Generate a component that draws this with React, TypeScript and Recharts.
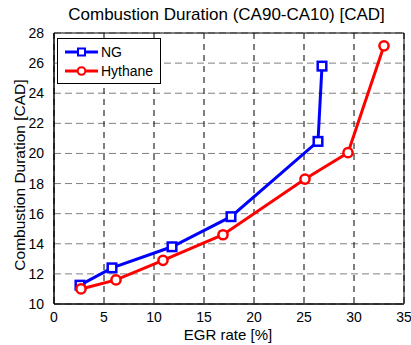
import React from "react";
import { LineChart, Line, XAxis, YAxis, CartesianGrid, ReferenceArea } from "recharts";

const ngX = [2.6, 5.8, 11.8, 17.7, 26.4, 26.8];
const ngY = [11.25, 12.4, 13.8, 15.8, 20.8, 25.8];
const hyX = [2.7, 6.2, 10.9, 16.9, 25.1, 29.4, 33.0];
const hyY = [11.0, 11.6, 12.9, 14.6, 18.3, 20.05, 27.15];
const xTicks = [0, 5, 10, 15, 20, 25, 30, 35];
const yTicks = [10, 12, 14, 16, 18, 20, 22, 24, 26, 28];

const ngData = ngX.map((x, i) => ({ x, y: ngY[i] }));
const hyData = hyX.map((x, i) => ({ x, y: hyY[i] }));

const FONT = "'Liberation Sans', Arial, sans-serif";
const BLUE = "#0000ff";
const RED = "#ff0000";

const SquareDot = (props: any) => {
  const { cx, cy } = props;
  if (cx == null || cy == null) return null;
  return <rect x={cx - 4.3} y={cy - 4.3} width={8.6} height={8.6} fill="#fff" stroke={BLUE} strokeWidth={2.5} />;
};
const CircleDot = (props: any) => {
  const { cx, cy } = props;
  if (cx == null || cy == null) return null;
  return <circle cx={cx} cy={cy} r={4.6} fill="#fff" stroke={RED} strokeWidth={2.5} />;
};

const YLabel = () => (
  <text
    x={19}
    y={175}
    transform="rotate(-90 19 175)"
    textAnchor="middle"
    dominantBaseline="central"
    fill="#000"
    fontSize={15.5}
    fontFamily={FONT}
  >
    Combustion Duration [CAD]
  </text>
);

const XLabel = () => (
  <text x={228} y={340} textAnchor="middle" fill="#000" fontSize={15} fontFamily={FONT}>
    EGR rate [%]
  </text>
);

export default function App() {
  return (
    <div style={{ position: "absolute", left: 0, top: 0, width: 411, height: 345, background: "#fff", fontFamily: FONT }}>
      <div style={{ position: "absolute", left: 0, width: 453, top: 5, textAlign: "center", fontSize: 17, color: "#000", lineHeight: "20px", whiteSpace: "nowrap" }}>
        Combustion Duration (CA90-CA10) [CAD]
      </div>
      <LineChart width={411} height={345} margin={{ top: 33, right: 7, bottom: 0, left: 0 }}>
        <CartesianGrid vertical={false} stroke="#808080" strokeDasharray="7 4" />
        <CartesianGrid horizontal={false} stroke="#000" strokeDasharray="6 5" />
        <XAxis
          type="number"
          dataKey="x"
          domain={[0, 35]}
          ticks={xTicks}
          allowDataOverflow
          height={41}
          tickLine={false}
          axisLine={{ stroke: "#000" }}
          tick={{ fill: "#000", fontSize: 14, fontFamily: FONT }}
          tickMargin={2}
          label={<XLabel />}
        />
        <YAxis
          type="number"
          dataKey="y"
          domain={[10, 28]}
          ticks={yTicks}
          allowDataOverflow
          width={54}
          tickLine={false}
          axisLine={{ stroke: "#000" }}
          tick={{ fill: "#000", fontSize: 14, fontFamily: FONT }}
          tickMargin={4}
          label={<YLabel />}
        />
        <ReferenceArea x1={0} x2={35} y1={10} y2={28} fill="none" stroke="#000" strokeWidth={1} ifOverflow="visible" />
        <Line data={ngData} dataKey="y" stroke={BLUE} strokeWidth={3} dot={<SquareDot />} isAnimationActive={false} />
        <Line data={hyData} dataKey="y" stroke={RED} strokeWidth={3} dot={<CircleDot />} isAnimationActive={false} />
      </LineChart>
      <div style={{ position: "absolute", left: 57, top: 38, width: 102, height: 44, border: "1px solid #000", background: "#fff", fontSize: 14, color: "#000" }}>
        <svg style={{ position: "absolute", left: 0, top: 0 }} width={102} height={44}>
          <line x1={7} y1={13} x2={40} y2={13} stroke={BLUE} strokeWidth={3} />
          <rect x={20} y={9.5} width={7} height={7} fill="#fff" stroke={BLUE} strokeWidth={2} />
          <line x1={7} y1={32} x2={40} y2={32} stroke={RED} strokeWidth={3} />
          <circle cx={23.5} cy={32} r={3.8} fill="#fff" stroke={RED} strokeWidth={2} />
        </svg>
        <div style={{ position: "absolute", left: 43, top: 4, lineHeight: "18px" }}>NG</div>
        <div style={{ position: "absolute", left: 43, top: 23, lineHeight: "18px" }}>Hythane</div>
      </div>
    </div>
  );
}
